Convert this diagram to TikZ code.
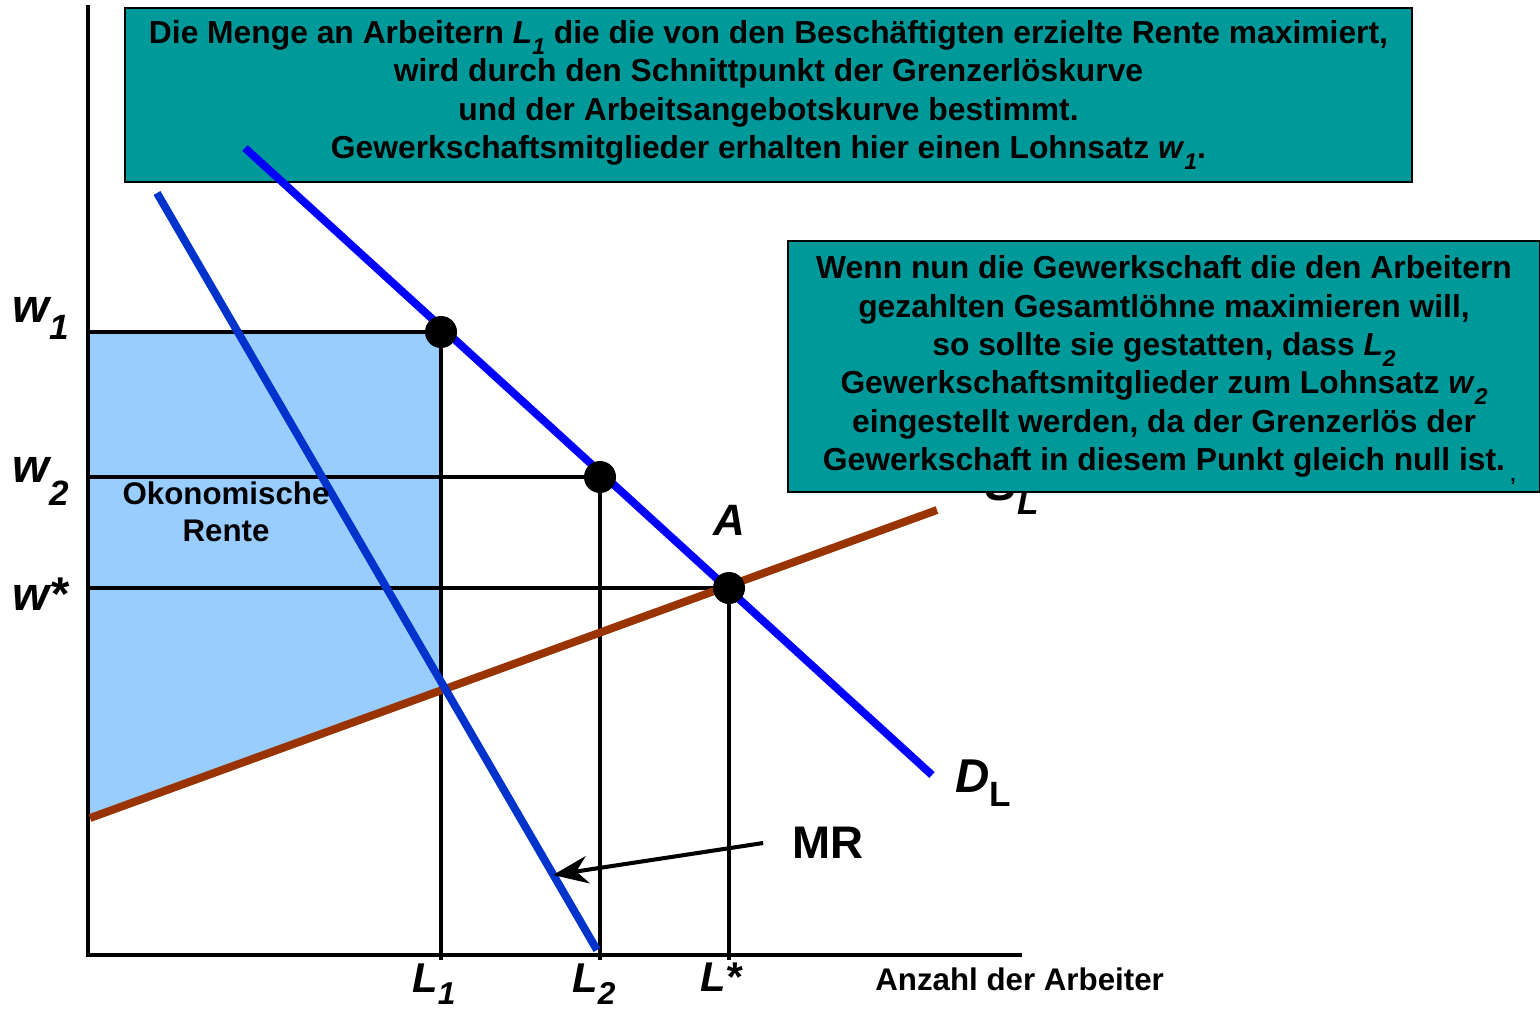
\documentclass[tikz,border=0pt]{standalone}
\usepackage{fontspec}
\setmainfont{Liberation Sans}
\usetikzlibrary{arrows.meta,positioning}
\definecolor{boxteal}{HTML}{009999}
\definecolor{demandblue}{HTML}{0000FF}
\definecolor{mrblue}{HTML}{0033CC}
\definecolor{supplybrown}{HTML}{993300}
\definecolor{rentblue}{HTML}{99CCFF}
\newcommand{\boxsub}[1]{\raisebox{-0.35em}{\fontsize{13}{14}\selectfont\itshape #1}}

\begin{document}
\begin{tikzpicture}[x=0.02cm, y=-0.02cm, >=Stealth,
  infobox/.style={draw=black, line width=1.3pt, fill=boxteal, align=center,
    font=\fontsize{18.1}{21.8}\selectfont\bfseries, inner sep=0pt},
  dot/.style={circle, fill=black, minimum size=0.64cm, inner sep=0pt},
  guide/.style={line width=2pt},
  curve/.style={line width=4.5pt},
  axlab/.style={anchor=base west, inner sep=0pt, font=\bfseries\itshape}]

  \useasboundingbox (0,0) rectangle (1540,1009);

  % Define coordinates for nodes
  \coordinate (O) at (88,955);
  \coordinate (Ytop) at (88,5);
  \coordinate (Xend) at (1022,955);
  \coordinate (p1) at (441,332);
  \coordinate (p2) at (600,477);
  \coordinate (pA) at (729,588);
  \coordinate (d1) at (245,148);
  \coordinate (d2) at (932,775);
  \coordinate (m1) at (157,193);
  \coordinate (m2) at (597,950);
  \coordinate (s1) at (90,818);
  \coordinate (s2) at (937,510);
  \coordinate (mrtip) at (553,875);

  % Upper text box
  \node[infobox, minimum width=25.74cm, minimum height=3.48cm] (box1) at (768.5,95)
    {Die Menge an Arbeitern \textit{L}\boxsub{1} die die von den Beschäftigten erzielte Rente maximiert,\\
     wird durch den Schnittpunkt der Grenzerlöskurve\\
     und der Arbeitsangebotskurve bestimmt.\\
     Gewerkschaftsmitglieder erhalten hier einen Lohnsatz \textit{w}\boxsub{1}.};

  % Rent area
  \fill[rentblue] (88,332) -- (p1) -- (441,690) -- (88,819) -- cycle;

  % Axes
  \draw[line width=2.3pt] (Ytop) -- (O) -- (Xend);

  % Guide lines
  \draw[guide] (p1 -| O) -- (p1) -- ([yshift=-0.1cm]p1 |- O);
  \draw[guide] (p2 -| O) -- (p2) -- ([yshift=-0.1cm]p2 |- O);
  \draw[guide] (pA -| O) -- (pA) -- ([yshift=-0.1cm]pA |- O);

  % Curves
  \draw[curve, supplybrown] (s1) -- (s2);
  \draw[curve, mrblue] (m1) -- (m2);
  \draw[curve, demandblue] (d1) -- (d2);

  % Points
  \node[dot] (P1) at (p1) {};
  \node[dot] (P2) at (p2) {};
  \node[dot] (PA) at (pA) {};

  % Labels
  \node[axlab] (lw1) at (12,322) {\fontsize{27}{30}\selectfont w\raisebox{-0.36em}{\fontsize{20}{22}\selectfont 1}};
  \node[axlab] (lw2) at (12,482) {\fontsize{27}{30}\selectfont w\raisebox{-0.5em}{\fontsize{20}{22}\selectfont 2}};
  \node[axlab] (lws) at (12,610) {\fontsize{27}{30}\selectfont w*};
  \node[axlab] (lL1) at (412,992) {\fontsize{23.7}{26}\selectfont L\raisebox{-0.3em}{\fontsize{18}{20}\selectfont 1}};
  \node[axlab] (lL2) at (572,992) {\fontsize{23.7}{26}\selectfont L\raisebox{-0.3em}{\fontsize{18}{20}\selectfont 2}};
  \node[axlab] (lLs) at (700,991) {\fontsize{23.7}{26}\selectfont L*};
  \node[axlab, anchor=base] (lA) at (729,535) {\fontsize{25}{28}\selectfont A};
  \node[axlab] (lD) at (955,792) {\fontsize{27}{30}\selectfont D\raisebox{-0.3em}{\upshape\fontsize{20}{22}\selectfont L}};
  \node[axlab] (lS) at (985,500) {\fontsize{27}{30}\selectfont S\raisebox{-0.3em}{\fontsize{20}{22}\selectfont L}};
  \node[font=\fontsize{26}{28}\selectfont\bfseries, inner xsep=0.58cm] (MR) at (828,843) {MR};
  \node[align=center, font=\fontsize{17.8}{21}\selectfont\bfseries] (rent) at (226,512) {Okonomische\\Rente};
  \node[anchor=base west, inner sep=0pt, font=\fontsize{17.8}{21}\selectfont\bfseries] (xlab) at (875,990) {Anzahl der Arbeiter};

  % Arrow to MR curve
  \draw[->, line width=2.3pt, >={Stealth[length=0.7cm, width=0.55cm]}] (MR.west) -- (mrtip);

  % Right text box
  \node[infobox, minimum width=15.04cm, minimum height=5.02cm] (box2) at (1164,366.5)
    {Wenn nun die Gewerkschaft die den Arbeitern\\
     gezahlten Gesamtlöhne maximieren will,\\
     so sollte sie gestatten, dass \textit{L}\boxsub{2}\\
     Gewerkschaftsmitglieder zum Lohnsatz \textit{w}\boxsub{2}\\
     eingestellt werden, da der Grenzerlös der\\
     Gewerkschaft in diesem Punkt gleich null ist.};
  \node[font=\fontsize{11}{12}\selectfont\bfseries, inner sep=0pt] (comma) at (1513,482) {,};
\end{tikzpicture}
\end{document}
